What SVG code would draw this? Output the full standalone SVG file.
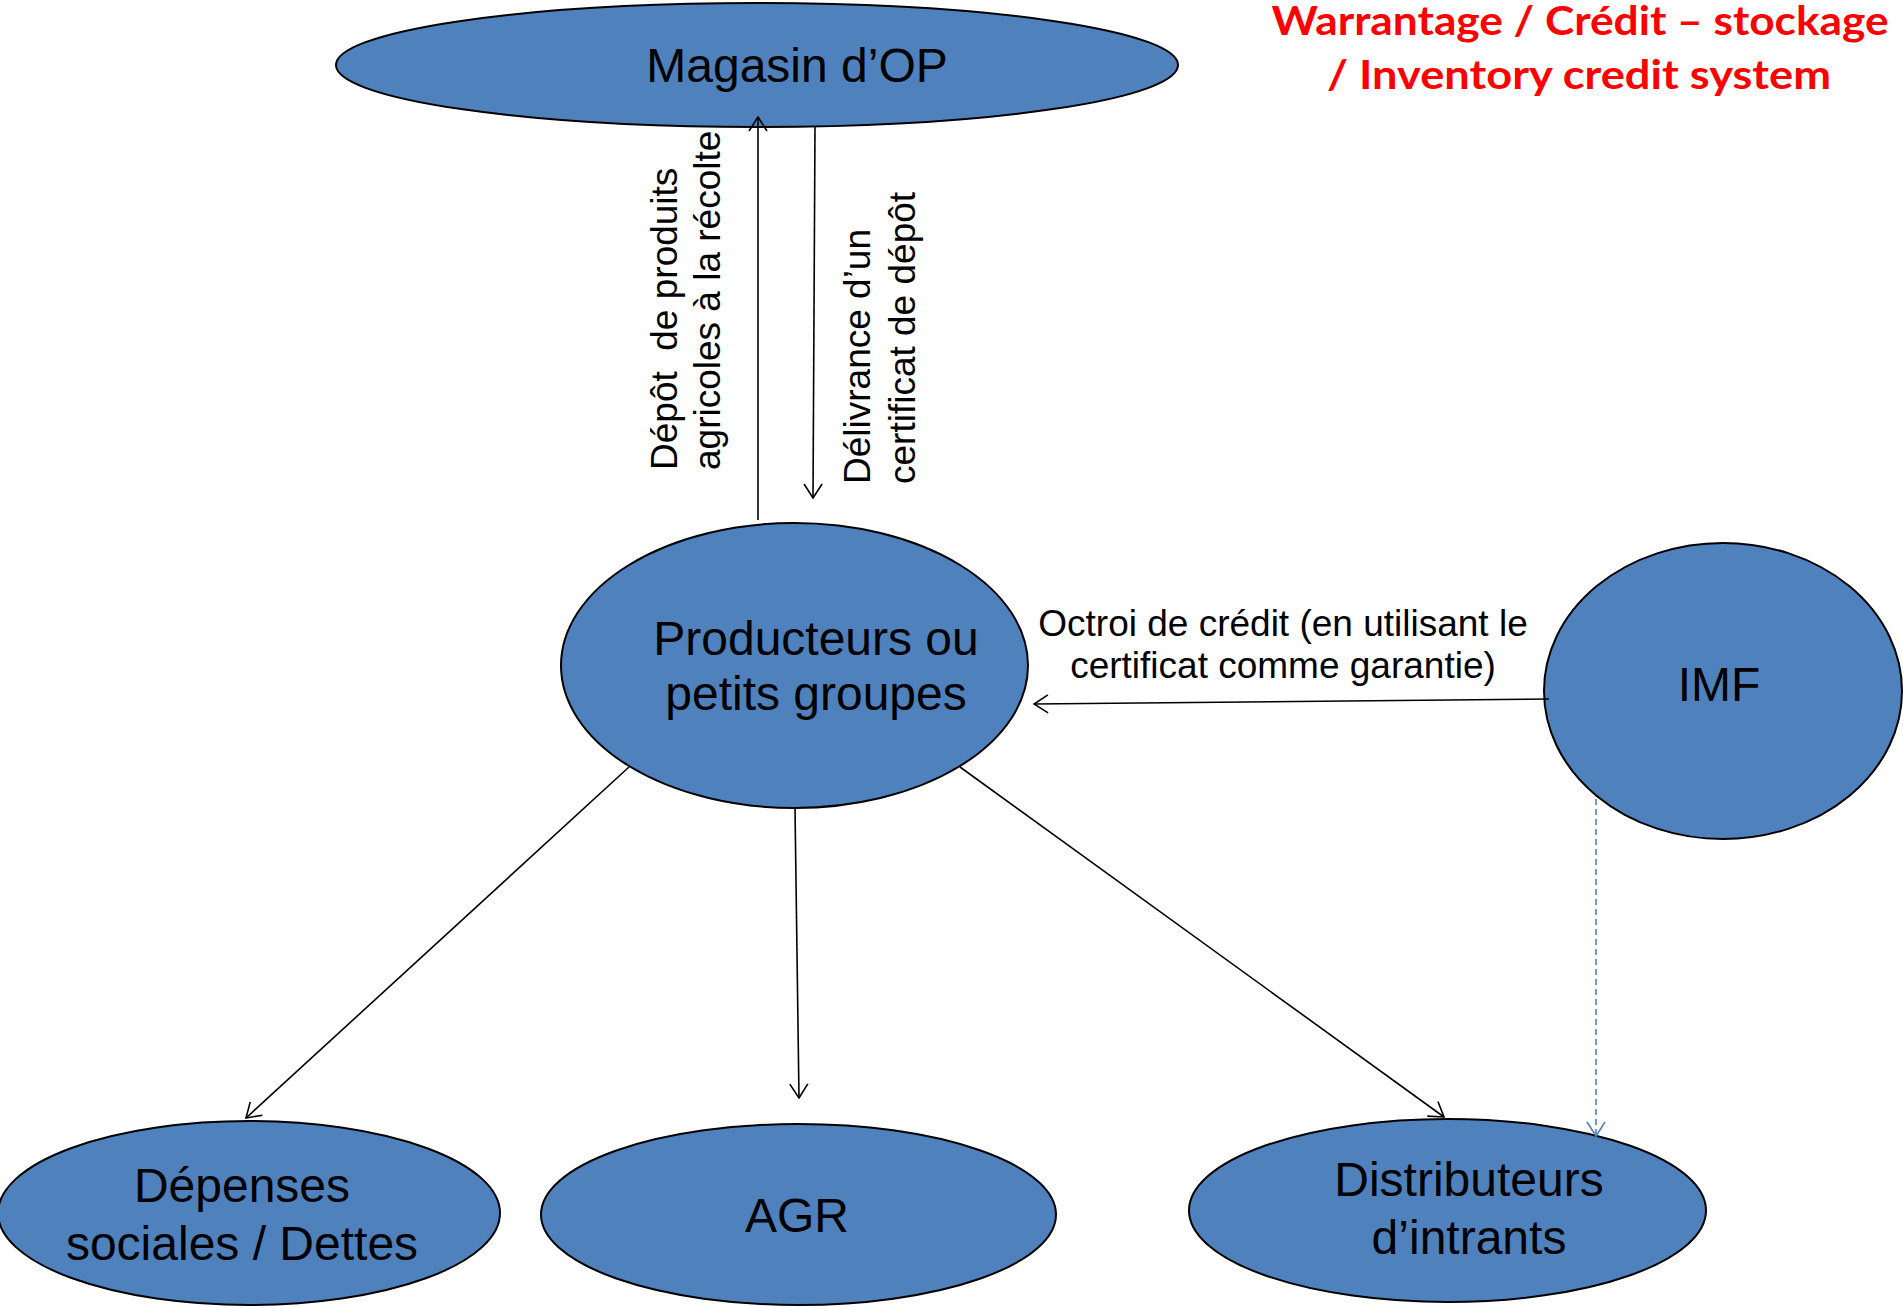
<svg xmlns="http://www.w3.org/2000/svg" width="1903" height="1308" viewBox="0 0 1903 1308">
<style>
.node{fill:#4F81BD;stroke:#000;stroke-width:2}
.nt{font-family:"Liberation Sans",Arial,sans-serif;font-size:48px;fill:#000;text-anchor:middle}
.lbl{font-family:"Liberation Sans",Arial,sans-serif;font-size:37px;fill:#000}
.title{font-family:"Lato","Liberation Sans",sans-serif;font-weight:bold;font-size:40px;fill:#FF0000;text-anchor:middle}
.conn{stroke:#000;stroke-width:1.6;fill:none}
.dash{stroke:#4F81BD;stroke-width:1.6;fill:none;stroke-dasharray:6 4}
</style>
<defs>
<marker id="ah" viewBox="0 0 16 20" refX="15" refY="10" markerWidth="16" markerHeight="20" markerUnits="userSpaceOnUse" orient="auto">
<path d="M1,1 L15,10 L1,19" fill="none" stroke="#000" stroke-width="1.6"/>
</marker>
<marker id="ahb" viewBox="0 0 16 20" refX="15" refY="10" markerWidth="16" markerHeight="20" markerUnits="userSpaceOnUse" orient="auto">
<path d="M1,1 L15,10 L1,19" fill="none" stroke="#4F81BD" stroke-width="1.6"/>
</marker>
</defs>
<rect x="0" y="0" width="1903" height="1308" fill="#fff"/>
<g id="title">
<text class="title" x="1580" y="35" textLength="617" lengthAdjust="spacingAndGlyphs">Warrantage / Crédit – stockage</text>
<text class="title" x="1579" y="89" textLength="504" lengthAdjust="spacingAndGlyphs">/ Inventory credit system</text>
</g>
<g id="magasin">
<ellipse class="node" cx="757" cy="65" rx="421" ry="62"/>
<text class="nt" x="797" y="82">Magasin d’OP</text>
</g>
<g id="producteurs">
<ellipse class="node" cx="794.5" cy="665.5" rx="233.5" ry="142.5"/>
<text class="nt" x="816" y="655">Producteurs ou</text>
<text class="nt" x="816" y="710">petits groupes</text>
</g>
<g id="imf">
<ellipse class="node" cx="1723" cy="691" rx="179" ry="148"/>
<text class="nt" x="1719" y="701">IMF</text>
</g>
<g id="depenses">
<ellipse class="node" cx="249" cy="1213" rx="251" ry="92"/>
<text class="nt" x="242" y="1202">Dépenses</text>
<text class="nt" x="242" y="1260">sociales / Dettes</text>
</g>
<g id="agr">
<ellipse class="node" cx="798.5" cy="1214.5" rx="257.5" ry="90.5"/>
<text class="nt" x="797" y="1232">AGR</text>
</g>
<g id="distributeurs">
<ellipse class="node" cx="1447.5" cy="1210.5" rx="258.5" ry="91.5"/>
<text class="nt" x="1469" y="1196">Distributeurs</text>
<text class="nt" x="1469" y="1254">d’intrants</text>
</g>
<g id="connectors">
<line class="conn" x1="758" y1="520" x2="758" y2="117" marker-end="url(#ah)"/>
<line class="conn" x1="815" y1="127" x2="813" y2="498" marker-end="url(#ah)"/>
<line class="conn" x1="1549" y1="699" x2="1034" y2="704" marker-end="url(#ah)"/>
<line class="conn" x1="629" y1="767" x2="246" y2="1118" marker-end="url(#ah)"/>
<line class="conn" x1="795" y1="808" x2="799" y2="1098" marker-end="url(#ah)"/>
<line class="conn" x1="960" y1="767" x2="1444" y2="1117" marker-end="url(#ah)"/>
<line class="dash" x1="1596" y1="799" x2="1596" y2="1136" marker-end="url(#ahb)"/>
<g id="lbl-depot" transform="translate(677,470) rotate(-90)">
<text class="lbl" x="0" y="0" xml:space="preserve">Dépôt  de produits</text>
<text class="lbl" x="0" y="43">agricoles à la récolte</text>
</g>
<g id="lbl-delivrance" transform="translate(870,484) rotate(-90)">
<text class="lbl" x="0" y="0">Délivrance d’un</text>
<text class="lbl" x="0" y="45">certificat de dépôt</text>
</g>
<g id="lbl-octroi">
<text class="lbl" x="1283" y="636" text-anchor="middle">Octroi de crédit (en utilisant le</text>
<text class="lbl" x="1283" y="678" text-anchor="middle">certificat comme garantie)</text>
</g>
</g>
</svg>
